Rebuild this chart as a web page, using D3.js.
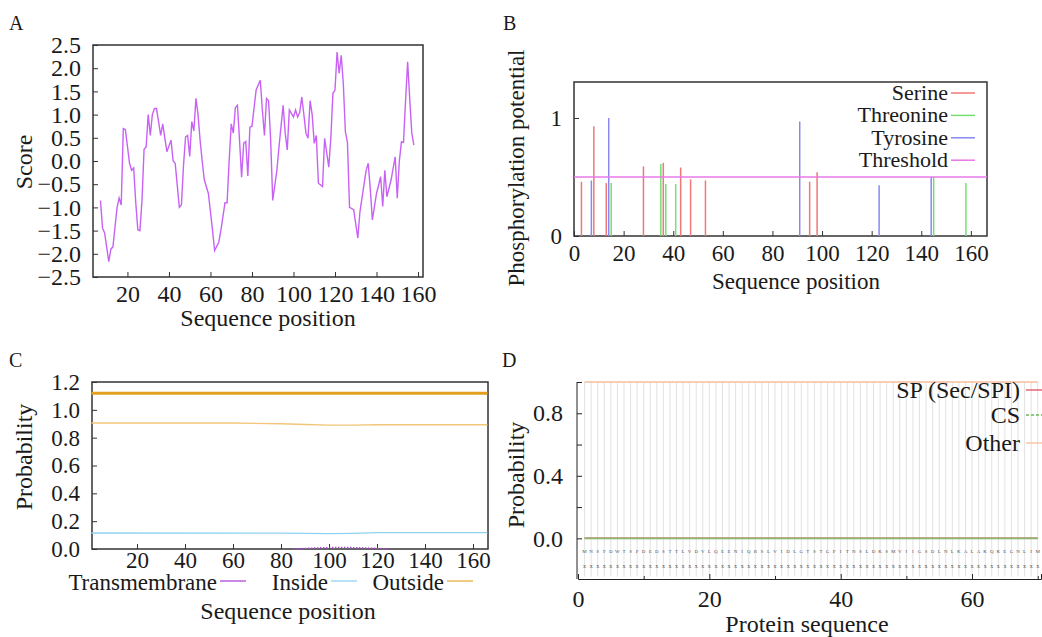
<!DOCTYPE html>
<html>
<head>
<meta charset="utf-8">
<script src="https://cdn.jsdelivr.net/npm/d3@7"></script>
<style>
body { margin: 0; background: #fff; }
svg text { font-family: "Liberation Serif", "Times New Roman", serif; fill: #1a1a1a; }
</style>
</head>
<body>
<svg id="fig" width="1042" height="637"></svg>
<script>
// Panel A - hydrophobicity score along the sequence
let hydroPos = [7, 8, 9, 11, 12, 13, 15, 16, 17, 18, 19, 21, 22, 23, 24, 25, 26, 27, 28, 29, 30, 31, 32, 33, 34, 35, 36, 37, 38, 39,
    41, 42, 43, 45, 46, 47, 48, 49, 50, 51, 52, 53, 54, 55, 56, 57, 59, 61, 62, 64, 65, 66, 67, 68, 69, 70, 71, 72, 73, 74,
    75, 76, 77, 78, 79, 80, 82, 84, 85, 86, 87, 88, 89, 90, 92, 93, 95, 96, 97, 98, 100, 101, 102, 103, 104, 105, 106, 107, 108, 109,
    110, 111, 112, 114, 115, 117, 118, 119, 120, 121, 122, 123, 124, 125, 126, 127, 129, 131, 132, 133, 135, 136, 137, 138, 140, 142, 143, 144, 145, 147,
    149, 150, 151, 152, 153, 154, 155, 156, 157, 158];
let hydroScore = [-0.85, -1.45, -1.55, -2.17, -1.9, -1.85, -1.0, -0.8, -0.95, 0.7, 0.68, -0.05, -0.2, -0.15, -0.9, -1.48, -1.5, -0.85, 0.25, 0.3, 1.0, 0.55, 1.0, 1.13, 1.13, 0.85, 0.55, 0.8, 0.5, 0.2,
    0.45, 0.0, -0.05, -1.0, -0.95, -0.1, 0.52, 0.55, 0.1, 0.85, 0.65, 1.35, 1.0, 0.45, 0.0, -0.4, -0.7, -1.5, -1.93, -1.75, -1.5, -1.2, -0.9, -0.9, 0.0, 0.8, 0.6, 1.15, 1.2, 0.45,
    -0.35, 0.38, 0.42, -0.32, 0.73, 0.75, 1.53, 1.74, 1.1, 0.55, 1.35, 1.3, 0.45, -0.85, -0.2, 0.3, 1.2, 0.6, 0.24, 1.1, 0.95, 1.1, 0.95, 1.05, 1.38, 1.0, 0.6, 0.49, 1.3, 1.0,
    0.38, 0.55, -0.48, -0.55, 0.49, -0.13, 0.5, 1.46, 1.53, 2.35, 1.89, 2.28, 1.67, 0.63, 0.4, -1.0, -1.05, -1.66, -1.1, -0.8, -0.2, -0.05, -0.6, -1.27, -0.7, -0.34, -0.98, -0.2, -0.77, -0.41,
    0.09, -0.8, 0.0, 0.41, 0.4, 1.3, 2.14, 1.34, 0.6, 0.34];
let hydroTicksY = [-2.5, -2.0, -1.5, -1.0, -0.5, 0.0, 0.5, 1.0, 1.5, 2.0, 2.5];
let seqTicks = [20, 40, 60, 80, 100, 120, 140, 160];

// Panel B - phosphorylation sites
let serinePos = [3, 8, 13, 28, 36, 43, 47, 53, 95, 98];
let serineVal = [0.46, 0.93, 0.45, 0.59, 0.62, 0.58, 0.48, 0.47, 0.46, 0.54];
let threoninePos = [15, 35, 37, 41, 145, 158];
let threonineVal = [0.45, 0.61, 0.44, 0.44, 0.5, 0.45];
let tyrosinePos = [7, 14, 91, 123, 144];
let tyrosineVal = [0.47, 1.0, 0.97, 0.43, 0.5];
let threshold = 0.5;
let phosTicksX = [0, 20, 40, 60, 80, 100, 120, 140, 160];
let phosTicksY = [0, 1];
let phosNames = ["Serine", "Threonine", "Tyrosine", "Threshold"];

// Panel C - transmembrane helices
let topoPos = [1, 166];
let topoVal = [1.12, 1.12];
let outsidePos = [1, 60, 80, 90, 100, 110, 120, 166];
let outsideVal = [0.905, 0.905, 0.9, 0.895, 0.89, 0.89, 0.893, 0.893];
let insidePos = [1, 80, 90, 100, 110, 120, 166];
let insideVal = [0.115, 0.114, 0.112, 0.11, 0.112, 0.117, 0.117];
let tmPos = [85, 90, 95, 100, 105, 110, 115, 120, 125];
let tmVal = [0.0, 0.004, 0.008, 0.01, 0.012, 0.01, 0.008, 0.004, 0.0];
let tmTicksY = [0.0, 0.2, 0.4, 0.6, 0.8, 1.0, 1.2];
let tmNames = ["Transmembrane", "Inside", "Outside"];

// Panel D - signal peptide
let residues = "MNSFDWTSPDEDSTTLVDVLQEENIQRSLVIDLGTSTGPITNSLDKSMVIIGSDLNLKALAKQKEGNLIM";
let spPos = [1, 70];
let spVal = [0, 0];
let csVal = [0, 0];
let otherVal = [1, 1];
let spTicksY = [0.0, 0.4, 0.8];
let spMinorY = [0.2, 0.6, 1.0];
let spTicksX = [0, 20, 40, 60];
let spMinorX = [10, 30, 50, 70];
let spNames = ["SP (Sec/SPI)", "CS", "Other"];

let svg = d3.select("#fig");
let ink = "#333";

function framedAxes(x, y, xTicks, yTicks, fs, xPad, yPad, yFmt) {
    let [x0, x1] = x.range();
    let [y0, y1] = y.range();
    svg.append("g").attr("transform", "translate(0," + y0 + ")")
        .call(d3.axisBottom(x).tickValues(xTicks).tickSize(-5).tickPadding(xPad).tickFormat(d3.format("d")))
        .attr("font-size", fs).attr("color", ink)
        .call(a => a.select(".domain").remove());
    svg.append("g").attr("transform", "translate(" + x0 + ",0)")
        .call(d3.axisLeft(y).tickValues(yTicks).tickSize(-5).tickPadding(yPad).tickFormat(yFmt))
        .attr("font-size", fs).attr("color", ink)
        .call(a => a.select(".domain").remove());
    svg.append("rect")
        .attr("x", x0).attr("y", y1).attr("width", x1 - x0).attr("height", y0 - y1)
        .attr("fill", "none").attr("stroke", ink).attr("stroke-width", 1.5);
}

function label(txt, x, y, fs, anchor) {
    svg.append("text").attr("x", x).attr("y", y).attr("font-size", fs)
        .attr("text-anchor", anchor || "middle").text(txt);
}

function yTitle(txt, x, y, fs) {
    svg.append("text").attr("transform", "translate(" + x + "," + y + ") rotate(-90)")
        .attr("font-size", fs).attr("text-anchor", "middle").text(txt);
}

// ---------- A ----------
let xA = d3.scaleLinear().domain([3.4, 162.4]).range([93, 423]);
let yA = d3.scaleLinear().domain([-2.5, 2.5]).range([277, 45]);
framedAxes(xA, yA, seqTicks, hydroTicksY, 24, 8, 12, d3.format(".1f"));
svg.append("path")
    .datum(hydroPos.map((p, i) => [p, hydroScore[i]]))
    .attr("fill", "none").attr("stroke", "#c862f4").attr("stroke-width", 1.4)
    .attr("d", d3.line().x(d => xA(d[0])).y(d => yA(d[1])));
label("A", 9, 30, 20, "start");
yTitle("Score", 32, 162, 24);
label("Sequence position", 268, 326, 24);

// ---------- B ----------
let xB = d3.scaleLinear().domain([0, 166.5]).range([574, 987]);
let yB = d3.scaleLinear().domain([0, 1.305]).range([236, 82]);
framedAxes(xB, yB, phosTicksX, phosTicksY, 23, 9, 12, d3.format("d"));
let phosColors = ["#f07878", "#74e074", "#8888f0", "#e878e8"];
[[serinePos, serineVal], [threoninePos, threonineVal], [tyrosinePos, tyrosineVal]].forEach((s, k) => {
    svg.append("g").selectAll("line").data(s[0]).enter().append("line")
        .attr("x1", d => xB(d)).attr("x2", d => xB(d))
        .attr("y1", yB(0)).attr("y2", (d, i) => yB(s[1][i]))
        .attr("stroke", phosColors[k]).attr("stroke-width", 1.5);
});
svg.append("line")
    .attr("x1", xB.range()[0]).attr("x2", xB.range()[1])
    .attr("y1", yB(threshold)).attr("y2", yB(threshold))
    .attr("stroke", phosColors[3]).attr("stroke-width", 1.5);
let legB = svg.append("g").selectAll("g").data(phosNames).enter().append("g")
    .attr("transform", (d, i) => "translate(0," + (100 + i * 22.4) + ")");
legB.append("text").attr("x", 948).attr("font-size", 22).attr("text-anchor", "end").text(d => d);
legB.append("line").attr("x1", 951).attr("x2", 975).attr("y1", -7).attr("y2", -7)
    .attr("stroke", (d, i) => phosColors[i]).attr("stroke-width", 1.5);
label("B", 503, 30, 20, "start");
yTitle("Phosphorylation potential", 524, 168, 23);
label("Sequence position", 796, 289, 23);

// ---------- C ----------
let xC = d3.scaleLinear().domain([1.25, 166.25]).range([92, 488]);
let yC = d3.scaleLinear().domain([0, 1.2]).range([549, 382]);
framedAxes(xC, yC, seqTicks, tmTicksY, 23, 3, 12, d3.format(".1f"));
let lineC = d3.line().x(d => xC(d[0])).y(d => yC(d[1]));
svg.append("path").datum(outsidePos.map((p, i) => [p, outsideVal[i]]))
    .attr("fill", "none").attr("stroke", "#f2c678").attr("stroke-width", 1.4).attr("d", lineC);
svg.append("path").datum(insidePos.map((p, i) => [p, insideVal[i]]))
    .attr("fill", "none").attr("stroke", "#8fd2ef").attr("stroke-width", 1.3).attr("d", lineC);
svg.append("path").datum(tmPos.map((p, i) => [p, tmVal[i]]))
    .attr("fill", "none").attr("stroke", "#b048d8").attr("stroke-width", 1.4)
    .attr("stroke-dasharray", "1.5,1.5").attr("d", lineC);
svg.append("path").datum(topoPos.map((p, i) => [p, topoVal[i]]))
    .attr("fill", "none").attr("stroke", "#e2a01c").attr("stroke-width", 3).attr("d", lineC);
let tmColors = ["#b048d8", "#8fd2ef", "#e8b040"];
let tmLegX = [217, 328, 444];
tmNames.forEach((n, i) => {
    label(n, tmLegX[i], 590, 23, "end");
    svg.append("line").attr("x1", tmLegX[i] + 3).attr("x2", tmLegX[i] + 29)
        .attr("y1", 581).attr("y2", 581)
        .attr("stroke", tmColors[i]).attr("stroke-width", 1.3);
});
label("C", 9, 367, 20, "start");
yTitle("Probability", 32, 457, 24);
label("Sequence position", 288, 619, 24);

// ---------- D ----------
let xD = d3.scaleLinear().domain([0, 70.5]).range([578, 1041]);
let yD = d3.scaleLinear().domain([-0.26, 1.0]).range([579, 382]);
let resIdx = residues.split("").map((r, i) => i + 1);
svg.append("g").selectAll("line").data(resIdx).enter().append("line")
    .attr("x1", d => xD(d)).attr("x2", d => xD(d))
    .attr("y1", yD(1.0)).attr("y2", yD(-0.245))
    .attr("stroke", "#e2e2e2").attr("stroke-width", 1);
svg.append("g").selectAll("text").data(residues.split("")).enter().append("text")
    .attr("x", (d, i) => xD(i + 1)).attr("y", yD(-0.08) + 2)
    .attr("font-size", 5).attr("text-anchor", "middle").style("fill", "#555").text(d => d);
svg.append("g").selectAll("text").data(resIdx).enter().append("text")
    .attr("x", d => xD(d)).attr("y", yD(-0.18) + 2)
    .attr("font-size", 6).attr("text-anchor", "middle").style("fill", "#555").text("x");
let lineD = d3.line().x(d => xD(d[0])).y(d => yD(d[1]));
svg.append("path").datum(spPos.map((p, i) => [p, otherVal[i]]))
    .attr("fill", "none").attr("stroke", "#f6bf9c").attr("stroke-width", 1.5).attr("d", lineD);
svg.append("path").datum(spPos.map((p, i) => [p, spVal[i]]))
    .attr("fill", "none").attr("stroke", "#e05060").attr("stroke-width", 1.5).attr("d", lineD);
svg.append("path").datum(spPos.map((p, i) => [p, csVal[i]]))
    .attr("fill", "none").attr("stroke", "#8cb46a").attr("stroke-width", 1.8).attr("d", lineD);
// axes: plain spines with inward ticks
svg.append("g").attr("transform", "translate(0," + yD.range()[0] + ")")
    .call(d3.axisBottom(xD).tickValues(spTicksX).tickSize(-5).tickPadding(11).tickFormat(d3.format("d")))
    .attr("font-size", 24).attr("color", "#222");
svg.append("g").attr("transform", "translate(0," + yD.range()[0] + ")").attr("color", "#222")
    .call(d3.axisBottom(xD).tickValues(spMinorX).tickSize(-3).tickFormat(""))
    .call(a => a.select(".domain").remove());
svg.append("g").attr("transform", "translate(577,0)")
    .call(d3.axisLeft(yD).tickValues(spTicksY).tickSize(-5).tickPadding(14).tickFormat(d3.format(".1f")))
    .attr("font-size", 24).attr("color", "#222")
    .call(a => a.select(".domain").attr("d", "M0," + yD(1.0) + "V" + yD.range()[0]));
svg.append("g").attr("transform", "translate(577,0)").attr("color", "#222")
    .call(d3.axisLeft(yD).tickValues(spMinorY).tickSize(-5).tickFormat(""))
    .call(a => a.select(".domain").remove());
let spColors = ["#e05060", "#6cb85a", "#f6bf9c"];
let spLegY = [398, 423, 451];
spNames.forEach((n, i) => {
    label(n, 1020, spLegY[i], 24, "end");
    svg.append("line").attr("x1", 1026).attr("x2", 1042)
        .attr("y1", spLegY[i] - 8).attr("y2", spLegY[i] - 8)
        .attr("stroke", spColors[i]).attr("stroke-width", 1.3)
        .attr("stroke-dasharray", i == 1 ? "3,2" : null);
});
label("D", 502, 367, 20, "start");
yTitle("Probability", 524, 475, 24);
label("Protein sequence", 807, 632, 24);
</script>
</body>
</html>
